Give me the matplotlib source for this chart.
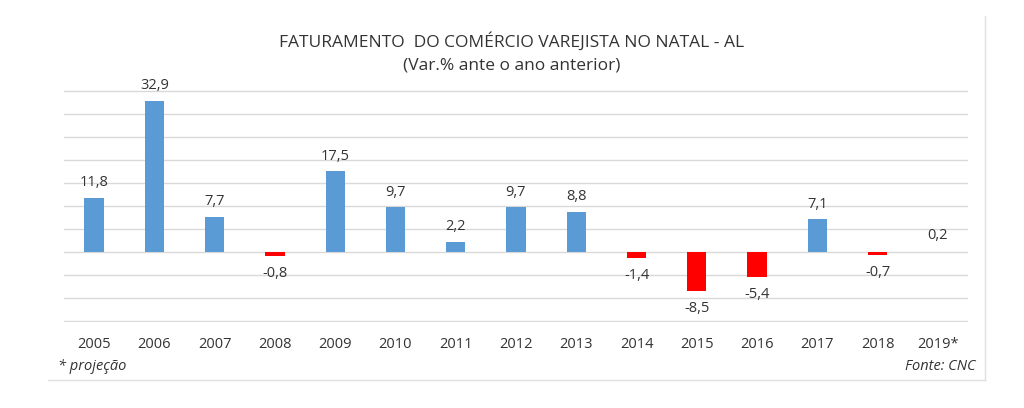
import matplotlib
matplotlib.use("Agg")
import matplotlib.pyplot as plt
from matplotlib.lines import Line2D

years = ["2005", "2006", "2007", "2008", "2009", "2010", "2011", "2012",
         "2013", "2014", "2015", "2016", "2017", "2018", "2019*"]
values = [11.8, 32.9, 7.7, -0.8, 17.5, 9.7, 2.2, 9.7, 8.8, -1.4, -8.5, -5.4, 7.1, -0.7, 0.2]
labels = ["11,8", "32,9", "7,7", "-0,8", "17,5", "9,7", "2,2", "9,7", "8,8",
          "-1,4", "-8,5", "-5,4", "7,1", "-0,7", "0,2"]
show_bar = [True] * 14 + [False]

plt.rcParams['font.family'] = ['Open Sans', 'DejaVu Sans']
txt = '#333333'
blue = '#5B9BD5'
red = '#FF0000'

fig = plt.figure(figsize=(10.24, 4.08), dpi=100)
ax = fig.add_axes([64/1024, 86/408, (968-64)/1024, (322-90)/408])

x = list(range(len(years)))
for i, (v, show) in enumerate(zip(values, show_bar)):
    if show:
        ax.bar(i, v, width=0.32, color=blue if v >= 0 else red, zorder=3)
    off = 11 if v >= 0 else -12.5
    ax.annotate(labels[i], (i, v), xytext=(0, off), textcoords='offset points',
                ha='center', va='center', fontsize=10.5, color=txt)

ax.set_xlim(-0.5, len(years) - 0.5)
ax.set_ylim(-15.2, 35.2)
ax.set_yticks(range(-15, 36, 5))
ax.yaxis.grid(True, color='#D9D9D9', linewidth=1, zorder=0)
ax.tick_params(axis='y', left=False, labelleft=False)
ax.set_xticks(x)
ax.set_xticklabels(years, fontsize=10.5, color=txt)
ax.tick_params(axis='x', bottom=False, pad=7)
for s in ax.spines.values():
    s.set_visible(False)

fig.text(512/1024, 1 - 42/408, "FATURAMENTO  DO COMÉRCIO VAREJISTA NO NATAL - AL",
         ha='center', va='center', fontsize=12.5, color=txt)
fig.text(512/1024, 1 - 66/408, "(Var.% ante o ano anterior)",
         ha='center', va='center', fontsize=12.5, color=txt)
fig.text(58/1024, 1 - 367/408, "* projeção", ha='left', va='center',
         fontsize=10.5, style='italic', color=txt)
fig.text(976/1024, 1 - 367/408, "Fonte: CNC", ha='right', va='center',
         fontsize=10.5, style='italic', color=txt)

fig.add_artist(Line2D([48/1024, 985/1024], [1 - 380/408, 1 - 380/408],
                      transform=fig.transFigure, color='#E0E0E0', linewidth=1))
fig.add_artist(Line2D([985/1024, 985/1024], [1 - 380/408, 1 - 16/408],
                      transform=fig.transFigure, color='#E0E0E0', linewidth=1))

fig.savefig("out.png", dpi=100, facecolor='white')
